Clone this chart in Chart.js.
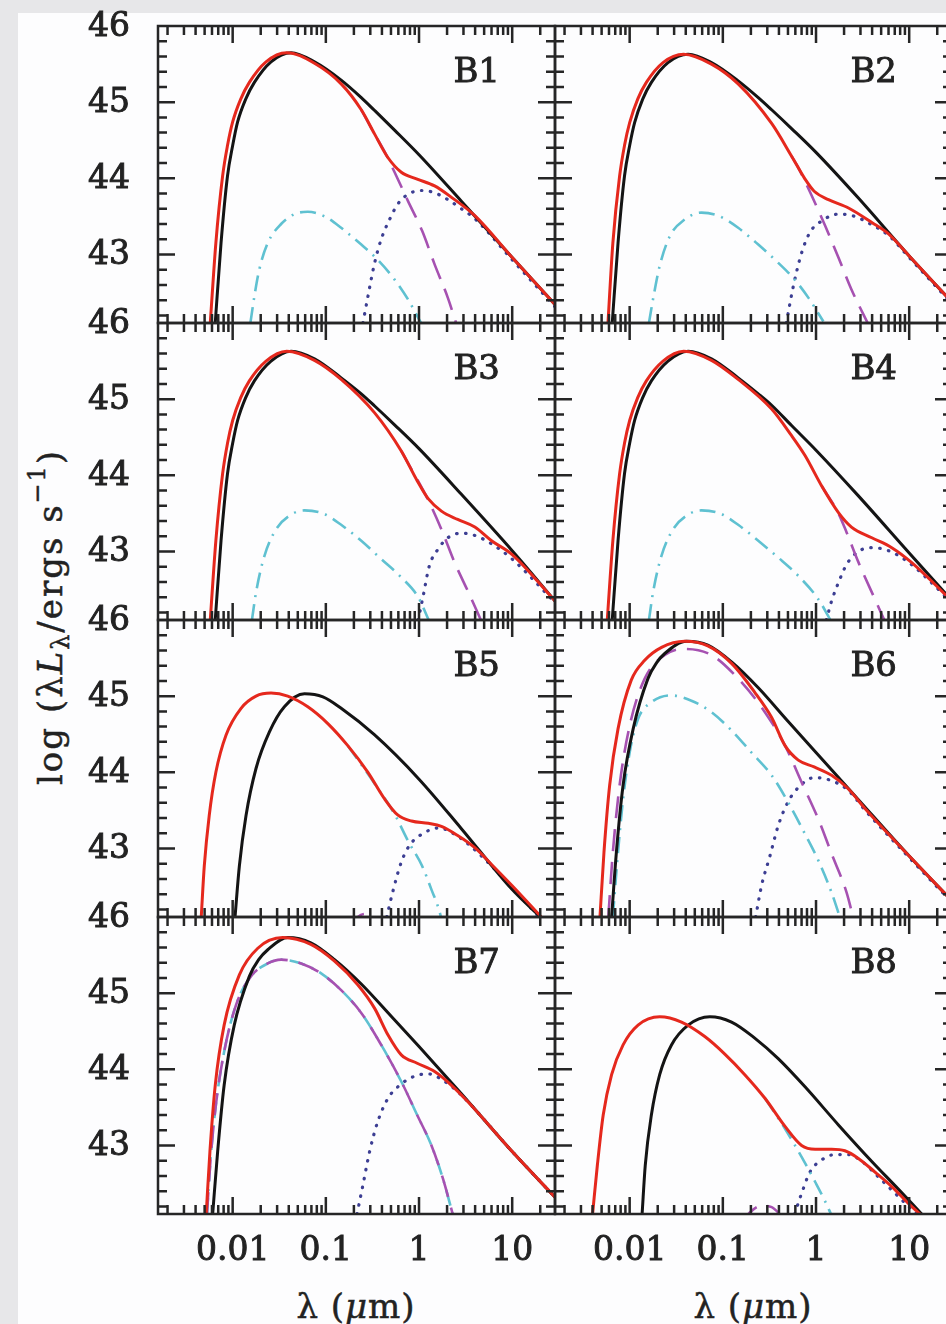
<!DOCTYPE html>
<html>
<head>
<meta charset="utf-8">
<script src="https://cdn.jsdelivr.net/npm/chart.js@4.4.1/dist/chart.umd.min.js"></script>
<style>
  html, body { margin: 0; padding: 0; }
  body { width: 946px; height: 1324px; overflow: hidden; position: relative; background: #e7e7e9; font-family: "DejaVu Serif", serif; color: #222; }
  #sheet { position: absolute; left: 18px; top: 13px; right: 0; bottom: 0; background: #fdfdfe; }
  canvas { position: absolute; }
  .title { position: absolute; white-space: nowrap; font-size: 34px; line-height: 1; -webkit-text-stroke: 0.5px #222; }
  #ytitle { left: 50px; top: 617px; transform: translate(-50%, -50%) rotate(-90deg); letter-spacing: 2px; }
  #ytitle sub { font-size: 0.7em; vertical-align: -0.3em; }
  #ytitle sup { font-size: 0.7em; vertical-align: 0.7em; }
  .xtitle { top: 1289px; transform: translateX(-50%); letter-spacing: 1px; }
</style>
</head>
<body>
<div id="sheet"></div>
<div id="ytitle" class="title">log (λ<i>L</i><sub>λ</sub>/ergs s<sup>−1</sup>)</div>
<div class="title xtitle" style="left:356px">λ (<i>μ</i>m)</div>
<div class="title xtitle" style="left:753px">λ (<i>μ</i>m)</div>
<script>
// axis ranges and tick labels
const xMin = 0.00158, xMax = 28.8;
const yMin = 42.1, yMax = 46;
const yTickLabels = [43, 44, 45, 46];
const xTickValues = [0.01, 0.1, 1, 10];
const xTickLabels = ['0.01', '0.1', '1', '10'];
const panelNames = ['B1', 'B2', 'B3', 'B4', 'B5', 'B6', 'B7', 'B8'];

// [lambda (um), log lambda*L_lambda]
const b1Black = [[0.0065,42.1],[0.0075,43.15],[0.0088,44.03],[0.01,44.43],[0.0113,44.74],[0.0138,45.04],[0.0171,45.26],[0.0258,45.53],[0.0424,45.65],[0.0755,45.53],[0.146,45.29],[0.24,45.06],[0.334,44.89],[0.55,44.63],[1,44.31],[2.85,43.7],[10,42.96],[31,42.3]];
const b1Red = [[0.00575,42.1],[0.0066,43.15],[0.0078,44.03],[0.0088,44.43],[0.01,44.74],[0.0122,45.04],[0.0151,45.26],[0.0228,45.53],[0.038,45.65],[0.0755,45.51],[0.146,45.24],[0.24,44.9],[0.334,44.58],[0.465,44.27],[0.645,44.08],[0.955,43.99],[1.47,43.9],[2.23,43.75],[3.97,43.51],[10,42.96],[31,42.3]];
const b1Mag = [[0.24,44.9],[0.334,44.58],[0.427,44.35],[0.547,44.08],[0.762,43.7],[1.08,43.31],[1.47,42.87],[2.04,42.43],[2.5,42.1]];
const b1Cyan = [[0.0155,42.1],[0.0171,42.45],[0.0193,42.8],[0.0238,43.15],[0.0331,43.4],[0.046,43.53],[0.064,43.56],[0.097,43.5],[0.146,43.35],[0.24,43.13],[0.36,42.93],[0.547,42.67],[0.762,42.41],[1.05,42.1]];
const b1Dot = [[0.25,42.1],[0.283,42.45],[0.334,42.89],[0.393,43.2],[0.483,43.46],[0.59,43.66],[0.762,43.79],[1.08,43.84],[1.47,43.81],[2.04,43.72],[2.85,43.6],[3.97,43.47],[10,42.93],[31,42.27]];

const b2Black = [[0.0065,42.1],[0.0075,43.15],[0.0088,44.03],[0.01,44.43],[0.0113,44.73],[0.0138,45.04],[0.0171,45.26],[0.0258,45.52],[0.0424,45.63],[0.0755,45.52],[0.146,45.28],[0.24,45.06],[0.334,44.9],[0.55,44.65],[1,44.34],[2.85,43.74],[10,42.98],[31,42.33]];
const b2Red = [[0.00585,42.1],[0.0066,43.15],[0.0078,44.03],[0.0088,44.43],[0.01,44.73],[0.0122,45.04],[0.0151,45.26],[0.0228,45.52],[0.038,45.63],[0.0755,45.5],[0.146,45.24],[0.334,44.72],[0.547,44.29],[0.762,43.99],[0.955,43.83],[1.36,43.72],[2.23,43.61],[3.97,43.42],[6,43.27],[10,42.98],[31,42.33]];
const b2Mag = [[0.547,44.29],[0.645,44.14],[0.9,43.77],[1.26,43.37],[1.74,42.96],[2.4,42.54],[3.65,42.08]];
const b2Cyan = [[0.0161,42.1],[0.0178,42.41],[0.021,42.85],[0.027,43.24],[0.039,43.46],[0.059,43.55],[0.089,43.51],[0.146,43.35],[0.24,43.13],[0.393,42.89],[0.59,42.67],[0.83,42.43],[1.2,42.12]];
const b2Dot = [[0.48,42.1],[0.57,42.58],[0.7,43.02],[0.86,43.29],[1.15,43.44],[1.74,43.53],[2.6,43.5],[3.97,43.39],[6,43.25],[10,42.96],[31,42.31]];

const b3Black = [[0.0065,42.1],[0.0075,43.14],[0.0088,44.02],[0.01,44.42],[0.0113,44.72],[0.0138,45.02],[0.0171,45.24],[0.0258,45.5],[0.0424,45.63],[0.0755,45.53],[0.146,45.28],[0.24,45.07],[0.334,44.91],[0.55,44.66],[1,44.35],[2.85,43.75],[10,43.01],[28.8,42.35]];
const b3Red = [[0.00575,42.1],[0.0066,43.14],[0.0078,44.02],[0.0088,44.42],[0.01,44.72],[0.0122,45.02],[0.0151,45.24],[0.0228,45.5],[0.038,45.63],[0.0755,45.51],[0.146,45.26],[0.334,44.82],[0.645,44.32],[0.955,43.93],[1.26,43.69],[1.74,43.53],[2.6,43.42],[3.97,43.32],[6,43.14],[10,42.96],[28.8,42.35]];
const b3Mag = [[0.645,44.32],[0.762,44.16],[1.26,43.67],[1.74,43.29],[2.4,42.86],[3.4,42.46],[4.65,42.09]];
const b3Cyan = [[0.0161,42.1],[0.0178,42.46],[0.0219,42.94],[0.0292,43.29],[0.0407,43.47],[0.059,43.54],[0.093,43.5],[0.146,43.35],[0.24,43.14],[0.393,42.9],[0.645,42.66],[0.98,42.4],[1.27,42.1]];
const b3Dot = [[0.98,42.1],[1.11,42.42],[1.29,42.81],[1.6,43.03],[2.04,43.18],[2.85,43.24],[3.97,43.21],[6,43.1],[10,42.9],[28.8,42.33]];

const b4Black = [[0.0065,42.1],[0.0075,43.14],[0.0088,44.02],[0.01,44.42],[0.0113,44.72],[0.0138,45.02],[0.0171,45.24],[0.0258,45.5],[0.0424,45.63],[0.0755,45.53],[0.146,45.28],[0.24,45.07],[0.334,44.92],[0.55,44.65],[1,44.33],[2.85,43.73],[10,42.98],[31,42.31]];
const b4Red = [[0.00575,42.1],[0.0066,43.14],[0.0078,44.02],[0.0088,44.42],[0.01,44.72],[0.0122,45.02],[0.0151,45.24],[0.0228,45.5],[0.038,45.63],[0.0755,45.51],[0.146,45.26],[0.334,44.87],[0.547,44.52],[0.762,44.26],[1.15,43.86],[1.74,43.51],[2.4,43.32],[3.97,43.18],[6.5,43.05],[10.5,42.86],[31,42.31]];
const b4Mag = [[1.15,43.86],[1.74,43.5],[2.13,43.25],[2.85,42.86],[4.3,42.37],[5.5,42.08]];
const b4Cyan = [[0.0161,42.1],[0.0178,42.46],[0.0219,42.94],[0.0292,43.29],[0.0407,43.47],[0.059,43.54],[0.093,43.5],[0.146,43.35],[0.24,43.14],[0.393,42.92],[0.645,42.68],[1.05,42.38],[1.34,42.16],[1.45,42.08]];
const b4Dot = [[1.29,42.1],[1.47,42.35],[1.74,42.59],[2.13,42.83],[2.85,43.0],[3.97,43.05],[6,43.01],[10,42.85],[31,42.29]];

const b5Black = [[0.0106,42.1],[0.0118,42.77],[0.0139,43.43],[0.0178,44.05],[0.0248,44.53],[0.0359,44.86],[0.059,45.03],[0.093,44.99],[0.146,44.84],[0.334,44.49],[1,43.91],[2.85,43.26],[10,42.46],[20.5,42.09]];
const b5Red = [[0.0046,42.1],[0.00496,42.77],[0.0056,43.43],[0.0066,44.0],[0.0085,44.49],[0.0123,44.84],[0.0178,45.0],[0.0258,45.04],[0.039,45.0],[0.064,44.86],[0.105,44.64],[0.172,44.35],[0.283,44.0],[0.427,43.65],[0.59,43.44],[0.83,43.36],[1.26,43.33],[1.74,43.29],[2.6,43.17],[3.97,43.01],[6,42.79],[10,42.51],[20.5,42.1]];
const b5Mag = [[0.172,41.95],[0.22,42.1],[0.265,42.14],[0.32,42.1],[0.393,41.98]];
const b5Cyan = [[0.172,44.35],[0.334,43.85],[0.547,43.45],[0.762,43.1],[1.08,42.77],[1.36,42.46],[1.67,42.16],[1.75,42.05]];
const b5Dot = [[0.45,42.1],[0.52,42.42],[0.645,42.82],[0.79,43.04],[1.08,43.19],[1.65,43.27],[2.23,43.21],[3.35,43.06],[6,42.77],[10,42.48],[20.5,42.07]];

const b6Black = [[0.0064,42.1],[0.0072,42.95],[0.0085,43.83],[0.0109,44.57],[0.0157,45.23],[0.0195,45.44],[0.0238,45.56],[0.0407,45.72],[0.069,45.67],[0.124,45.45],[0.24,45.11],[0.5,44.67],[1,44.26],[2.85,43.64],[10,42.9],[31,42.27]];
const b6Red = [[0.0048,42.1],[0.0053,42.95],[0.0061,43.83],[0.0075,44.57],[0.0104,45.21],[0.0145,45.47],[0.022,45.64],[0.039,45.72],[0.069,45.66],[0.124,45.43],[0.22,45.05],[0.334,44.72],[0.465,44.35],[0.645,44.16],[0.955,44.07],[1.47,43.96],[2.23,43.78],[3.37,43.52],[10,42.9],[31,42.27]];
const b6Mag = [[0.0059,42.1],[0.0066,42.95],[0.0078,43.83],[0.01,44.61],[0.0145,45.23],[0.0238,45.54],[0.039,45.62],[0.0755,45.54],[0.146,45.23],[0.283,44.79],[0.465,44.35],[0.7,43.87],[1.08,43.36],[1.47,42.93],[2.13,42.42],[2.5,42.1]];
const b6Cyan = [[0.0066,42.1],[0.0075,42.95],[0.0085,43.65],[0.01,44.26],[0.0123,44.7],[0.0171,44.92],[0.0281,45.01],[0.046,44.94],[0.0755,44.79],[0.124,44.55],[0.203,44.26],[0.334,43.96],[0.5,43.61],[0.762,43.19],[1.08,42.82],[1.47,42.42],[1.8,42.1]];
const b6Dot = [[0.225,42.1],[0.26,42.51],[0.32,42.9],[0.393,43.3],[0.5,43.61],[0.67,43.82],[0.955,43.93],[1.47,43.89],[2.23,43.76],[3.37,43.5],[10,42.88],[31,42.25]];

const b7Black = [[0.0061,42.1],[0.0069,42.92],[0.0081,43.79],[0.0104,44.58],[0.0151,45.22],[0.019,45.44],[0.0238,45.57],[0.039,45.73],[0.069,45.66],[0.124,45.44],[0.24,45.12],[0.5,44.7],[1,44.3],[2.85,43.68],[10,42.92],[31,42.28]];
const b7Red = [[0.0052,42.1],[0.0057,42.92],[0.0065,43.79],[0.0081,44.58],[0.0118,45.24],[0.0186,45.59],[0.0345,45.73],[0.069,45.64],[0.124,45.42],[0.22,45.11],[0.334,44.8],[0.465,44.45],[0.645,44.19],[0.955,44.08],[1.47,43.97],[2.23,43.79],[3.37,43.57],[10,42.92],[31,42.28]];
const b7Mag = [[0.0053,42.1],[0.0058,42.83],[0.0066,43.53],[0.0081,44.23],[0.0109,44.85],[0.0157,45.22],[0.0238,45.39],[0.0331,45.44],[0.0543,45.39],[0.089,45.26],[0.146,45.04],[0.24,44.74],[0.393,44.32],[0.645,43.84],[0.955,43.4],[1.36,43.0],[1.8,42.57],[2.3,42.1]];
const b7Cyan = [[0.0053,42.1],[0.0058,42.83],[0.0066,43.53],[0.0081,44.23],[0.0109,44.85],[0.0157,45.22],[0.0238,45.39],[0.0331,45.44],[0.0543,45.39],[0.089,45.26],[0.146,45.04],[0.24,44.74],[0.393,44.32],[0.645,43.84],[0.955,43.4],[1.36,43.0],[1.8,42.57],[2.3,42.1]];
const b7Dot = [[0.216,42.1],[0.25,42.48],[0.295,42.92],[0.36,43.31],[0.465,43.62],[0.62,43.79],[0.898,43.91],[1.26,43.94],[1.89,43.84],[2.85,43.66],[10,42.92],[31,42.28]];

const b8Black = [[0.0136,42.1],[0.0147,42.74],[0.0171,43.4],[0.021,43.93],[0.0281,44.32],[0.0424,44.58],[0.0725,44.69],[0.124,44.62],[0.22,44.41],[0.393,44.14],[0.762,43.77],[1.74,43.27],[3.97,42.79],[7.6,42.43],[13.6,42.1]];
const b8Red = [[0.004,42.1],[0.0045,42.74],[0.0052,43.4],[0.0064,43.93],[0.0085,44.32],[0.0123,44.58],[0.021,44.69],[0.036,44.62],[0.064,44.43],[0.105,44.2],[0.172,43.93],[0.283,43.62],[0.465,43.25],[0.7,43.0],[0.98,42.95],[1.47,42.95],[2.04,42.93],[2.85,42.83],[4.3,42.65],[6.5,42.46],[9.8,42.24],[14.8,42.04]];
const b8Mag = [[0.16,41.98],[0.195,42.12],[0.26,42.21],[0.334,42.19],[0.42,42.08],[0.47,42.0]];
const b8Cyan = [[0.283,43.62],[0.465,43.22],[0.7,42.85],[0.98,42.52],[1.26,42.26],[1.47,42.08]];
const b8Dot = [[0.59,42.1],[0.7,42.37],[0.86,42.65],[1.15,42.81],[1.6,42.88],[2.23,42.88],[3.1,42.79],[5.1,42.54],[9.1,42.24],[13.6,42.04]];

const panelCurves = [
  [b1Red, b1Black, b1Mag, b1Cyan, b1Dot],
  [b2Red, b2Black, b2Mag, b2Cyan, b2Dot],
  [b3Red, b3Black, b3Mag, b3Cyan, b3Dot],
  [b4Red, b4Black, b4Mag, b4Cyan, b4Dot],
  [b5Red, b5Black, b5Mag, b5Cyan, b5Dot],
  [b6Red, b6Black, b6Mag, b6Cyan, b6Dot],
  [b7Red, b7Black, b7Mag, b7Cyan, b7Dot],
  [b8Red, b8Black, b8Mag, b8Cyan, b8Dot]
];

// line styles, in the same order as the curves above (first one is drawn on top)
const curveStyles = [
  { borderColor: '#e5281d', borderWidth: 3 },
  { borderColor: '#141414', borderWidth: 3 },
  { borderColor: '#a651b1', borderWidth: 2.6, borderDash: [22, 11] },
  { borderColor: '#5fc1d1', borderWidth: 2.6, borderDash: [16, 7, 2, 7] },
  { borderColor: '#3c3e93', borderWidth: 3.2, borderDash: [0.5, 8.5], borderCapStyle: 'round' }
];

// panel grid geometry
const rowTops = [26, 323, 620, 917];
const rowH = 297;
const colLefts = [158, 555];
const colW = 397;
const pad = 22;

const SERIF = '"DejaVu Serif", serif';

function heavyText(ctx, text, x, y) {
  ctx.fillText(text, x, y);
  ctx.strokeText(text, x, y);
}

// frame with inward log/linear ticks, tick labels and panel name
const framePlugin = {
  id: 'framePlugin',
  afterDatasetsDraw(chart, args, opts) {
    const { ctx, chartArea: a, scales: { x, y } } = chart;
    ctx.save();
    ctx.strokeStyle = '#262626';
    ctx.lineWidth = 2.5;
    ctx.lineCap = 'butt';
    ctx.strokeRect(a.left, a.top, a.right - a.left, a.bottom - a.top);

    ctx.beginPath();
    for (let d = -3; d <= 1; d++) {
      for (let m = 1; m <= 9; m++) {
        const v = m * Math.pow(10, d);
        if (v <= x.min || v >= x.max) continue;
        const px = x.getPixelForValue(v);
        const len = m === 1 ? 17 : 9;
        ctx.moveTo(px, a.bottom); ctx.lineTo(px, a.bottom - len);
        ctx.moveTo(px, a.top); ctx.lineTo(px, a.top + len);
      }
    }
    for (let k = Math.ceil(y.min * 5 + 0.01); k < y.max * 5 - 0.01; k++) {
      const py = y.getPixelForValue(k / 5);
      const len = k % 5 === 0 ? 17 : 9;
      ctx.moveTo(a.left, py); ctx.lineTo(a.left + len, py);
      ctx.moveTo(a.right, py); ctx.lineTo(a.right - len, py);
    }
    ctx.stroke();

    ctx.fillStyle = '#222';
    ctx.strokeStyle = '#222';
    ctx.lineWidth = 0.9;
    ctx.font = '33px ' + SERIF;
    if (opts.yLabels) {
      ctx.textAlign = 'right';
      ctx.textBaseline = 'middle';
      yTickLabels.forEach(v => heavyText(ctx, String(v), a.left - 28, y.getPixelForValue(v) + 1));
    }
    if (opts.xLabels) {
      ctx.textAlign = 'center';
      ctx.textBaseline = 'middle';
      xTickValues.forEach((v, i) => heavyText(ctx, xTickLabels[i], x.getPixelForValue(v), a.bottom + 37));
    }
    ctx.font = '34px ' + SERIF;
    ctx.textAlign = 'right';
    ctx.textBaseline = 'middle';
    heavyText(ctx, opts.name, a.right - 55, a.top + 47);
    ctx.restore();
  }
};

panelCurves.forEach((curves, i) => {
  const row = Math.floor(i / 2), col = i % 2;
  const bottomRow = row === 3;
  const padL = col === 0 ? colLefts[0] : pad;
  const padB = bottomRow ? 100 : pad;
  const cv = document.createElement('canvas');
  cv.width = padL + colW + pad;
  cv.height = pad + rowH + padB;
  cv.style.left = (colLefts[col] - padL) + 'px';
  cv.style.top = (rowTops[row] - pad) + 'px';
  document.body.appendChild(cv);

  new Chart(cv.getContext('2d'), {
    type: 'line',
    data: {
      datasets: curves.map((pts, j) => Object.assign({
        data: pts.map(([x, y]) => ({ x, y })),
        pointRadius: 0,
        fill: false,
        cubicInterpolationMode: 'monotone',
        clip: 0
      }, curveStyles[j]))
    },
    options: {
      responsive: false,
      animation: false,
      devicePixelRatio: 1,
      events: [],
      layout: { padding: { left: padL, right: pad, top: pad, bottom: padB } },
      scales: {
        x: { type: 'logarithmic', min: xMin, max: xMax, display: false },
        y: { type: 'linear', min: yMin, max: yMax, display: false }
      },
      plugins: {
        legend: { display: false },
        tooltip: { enabled: false },
        framePlugin: { name: panelNames[i], yLabels: col === 0, xLabels: bottomRow }
      }
    },
    plugins: [framePlugin]
  });
});
</script>
</body>
</html>
